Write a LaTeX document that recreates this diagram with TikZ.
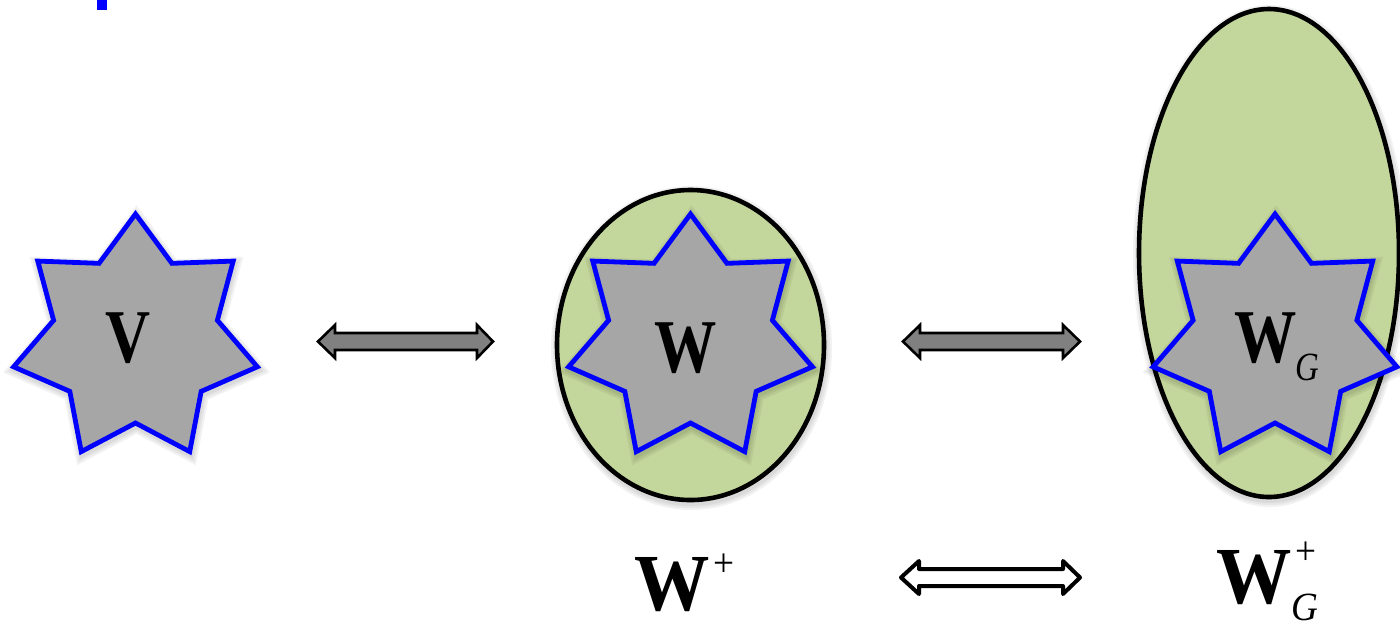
\documentclass[tikz,border=0pt]{standalone}
\usepackage{fontspec}
\setmainfont{Liberation Serif}
\usepackage{graphicx}
\definecolor{leaf}{HTML}{C3D69B}
\definecolor{stargray}{HTML}{A6A6A6}
\definecolor{arrowgray}{HTML}{808080}
\newcommand\starpath{plot[samples at={0,...,13},variable=\k]
    ({-90+\k*180/7}:{104.5+20.5*cos(\k*180)}) -- cycle}
\newcommand\heptastar[1]{%
  \foreach \lw in {7,5,3}{\draw[softshadow,line width=\lw pt,shift={(#1)}] \starpath;}
  \draw[starbody,shift={(#1)}] \starpath;}
\newcommand\setellipse[3]{%
  \foreach \lw in {7,5,3}{\draw[softshadow,line width=\lw pt] (#1) ellipse [x radius=#2, y radius=#3];}
  \draw[setbody] (#1) ellipse [x radius=#2, y radius=#3];}
\newcommand\bigsize{\fontsize{38}{38}\selectfont}
\newcommand\labsize{\fontsize{40.5}{40.5}\selectfont}
\newcommand\scriptsz{\fontsize{20}{20}\selectfont}
\begin{document}
\begin{tikzpicture}[x=0.5pt,y=-0.5pt,
  softshadow/.style={draw=black,draw opacity=0.05,yshift=-1.5pt,xshift=0.5pt},
  setbody/.style={draw=black,line width=2.3pt,fill=leaf},
  starbody/.style={draw=blue,line width=2.4pt,fill=stargray,line join=miter},
  grayarrow/.style={draw=black,line width=1.3pt,fill=arrowgray,line join=miter},
  whitearrow/.style={draw=black,line width=2pt,fill=white,line join=round},
  startxt/.style={inner sep=0pt,anchor=base west},
  labeltxt/.style={inner sep=0pt,anchor=base west},
]
\useasboundingbox (0,0) rectangle (1400,623);
\clip (0,0) rectangle (1400,623);

% fragment of blue title text
\fill[blue] (97,0) rectangle (107,10);

% sets
\setellipse{690.5,345}{133.5}{155}
\setellipse{1269,253}{130}{244}

% stars
\heptastar{135.5,339}
\heptastar{690.5,339}
\heptastar{1275,339}

% star texts
\node[startxt] (v) at (105,362) {\scalebox{0.82}[1]{\bigsize\bfseries V}};
\node[startxt] (w) at (654,372) {\scalebox{0.82}[1]{\bigsize\bfseries W}};
\node[startxt] (wg) at (1234,362) {\scalebox{0.82}[1]{\bigsize\bfseries W\kern-1pt\raisebox{-9pt}{\scriptsz\mdseries\itshape G}}};

% labels
\node[labeltxt] (wplus) at (634,610) {\scalebox{0.93}[1]{\labsize\bfseries W\kern2pt\raisebox{16.7pt}{\scriptsz\mdseries +}}};
\node[labeltxt] (wgplus) at (1216,603) {\scalebox{0.93}[1]{\labsize\bfseries W\rlap{\kern2pt\raisebox{19.2pt}{\scriptsz\mdseries +}}\kern0pt\raisebox{-8.5pt}{\scriptsz\mdseries\itshape G}}};

% gray double arrows
\draw[grayarrow] (318,341.5) -- (335,325) -- (335,333) -- (477,333) -- (477,325)
  -- (493,341.5) -- (477,358) -- (477,350) -- (335,350) -- (335,358) -- cycle;
\draw[grayarrow] (903,341.5) -- (920,325) -- (920,333) -- (1063,333) -- (1063,325)
  -- (1080,341.5) -- (1063,358) -- (1063,350) -- (920,350) -- (920,358) -- cycle;

% white double arrow
\draw[whitearrow] (901,577.5) -- (919,561) -- (919,569) -- (1063,569) -- (1063,561)
  -- (1080,577.5) -- (1063,594) -- (1063,586) -- (919,586) -- (919,594) -- cycle;
\end{tikzpicture}
\end{document}
